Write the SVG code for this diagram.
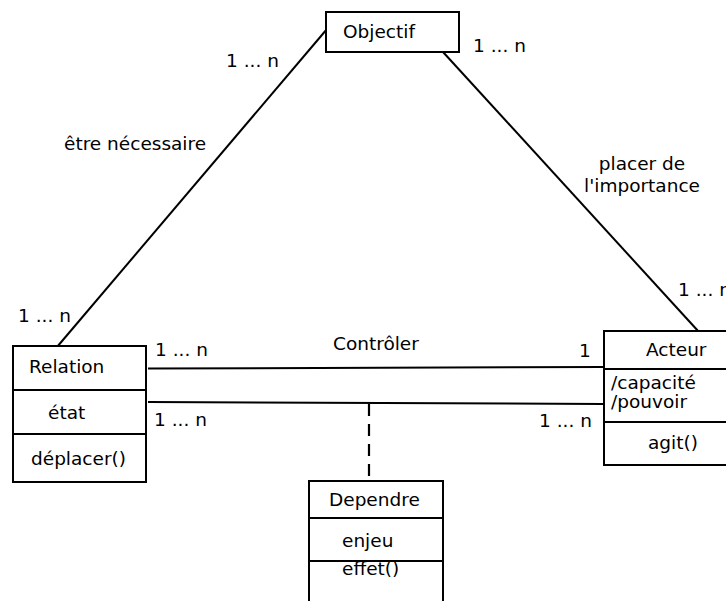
<svg xmlns="http://www.w3.org/2000/svg" width="726" height="601" viewBox="0 0 726 601">
<style>
text { font-family: "DejaVu Sans", "Liberation Sans", sans-serif; font-size: 18.5px; fill: #000; }
.box { fill: #fff; stroke: #000; stroke-width: 2; }
.ln { fill: none; stroke: #000; stroke-width: 2; }
.dash { fill: none; stroke: #000; stroke-width: 2.2; stroke-dasharray: 12 8; }
</style>
<rect width="726" height="601" fill="#fff"/>
<g id="connectors">
  <line class="ln" x1="327" y1="29" x2="57" y2="347"/>
  <line class="ln" x1="443" y1="52" x2="699" y2="332"/>
  <line class="ln" x1="148" y1="368.5" x2="603" y2="367"/>
  <line class="ln" x1="148" y1="402" x2="603" y2="404"/>
  <line class="dash" x1="369" y1="404" x2="369" y2="481"/>
  <text x="226" y="67">1 ... n</text>
  <text x="473" y="52">1 ... n</text>
  <text x="18" y="322">1 ... n</text>
  <text x="678" y="296">1 ... n</text>
  <text x="64" y="150">être nécessaire</text>
  <text x="642" y="170" text-anchor="middle">placer de</text>
  <text x="642" y="192" text-anchor="middle">l'importance</text>
  <text x="333" y="350">Contrôler</text>
  <text x="155" y="356">1 ... n</text>
  <text x="579" y="357">1</text>
  <text x="154" y="426">1 ... n</text>
  <text x="539" y="427">1 ... n</text>
</g>
<g id="objectif">
  <rect class="box" x="326" y="12" width="133" height="40"/>
  <text x="343" y="38">Objectif</text>
</g>
<g id="relation">
  <rect class="box" x="13" y="346" width="133" height="136"/>
  <line class="ln" x1="13" y1="390" x2="146" y2="390"/>
  <line class="ln" x1="13" y1="434" x2="146" y2="434"/>
  <text x="29" y="373">Relation</text>
  <text x="48" y="419">état</text>
  <text x="31" y="465">déplacer()</text>
</g>
<g id="acteur">
  <rect class="box" x="604" y="331" width="133" height="134"/>
  <line class="ln" x1="604" y1="369" x2="737" y2="369"/>
  <line class="ln" x1="604" y1="422" x2="737" y2="422"/>
  <text x="646" y="356">Acteur</text>
  <text x="611" y="389">/capacité</text>
  <text x="611" y="408">/pouvoir</text>
  <text x="648" y="449">agit()</text>
</g>
<g id="dependre">
  <rect class="box" x="309" y="481" width="134" height="140"/>
  <line class="ln" x1="309" y1="518" x2="443" y2="518"/>
  <line class="ln" x1="309" y1="561" x2="443" y2="561"/>
  <text x="329" y="506">Dependre</text>
  <text x="342" y="547">enjeu</text>
  <text x="342" y="575">effet()</text>
</g>
</svg>
